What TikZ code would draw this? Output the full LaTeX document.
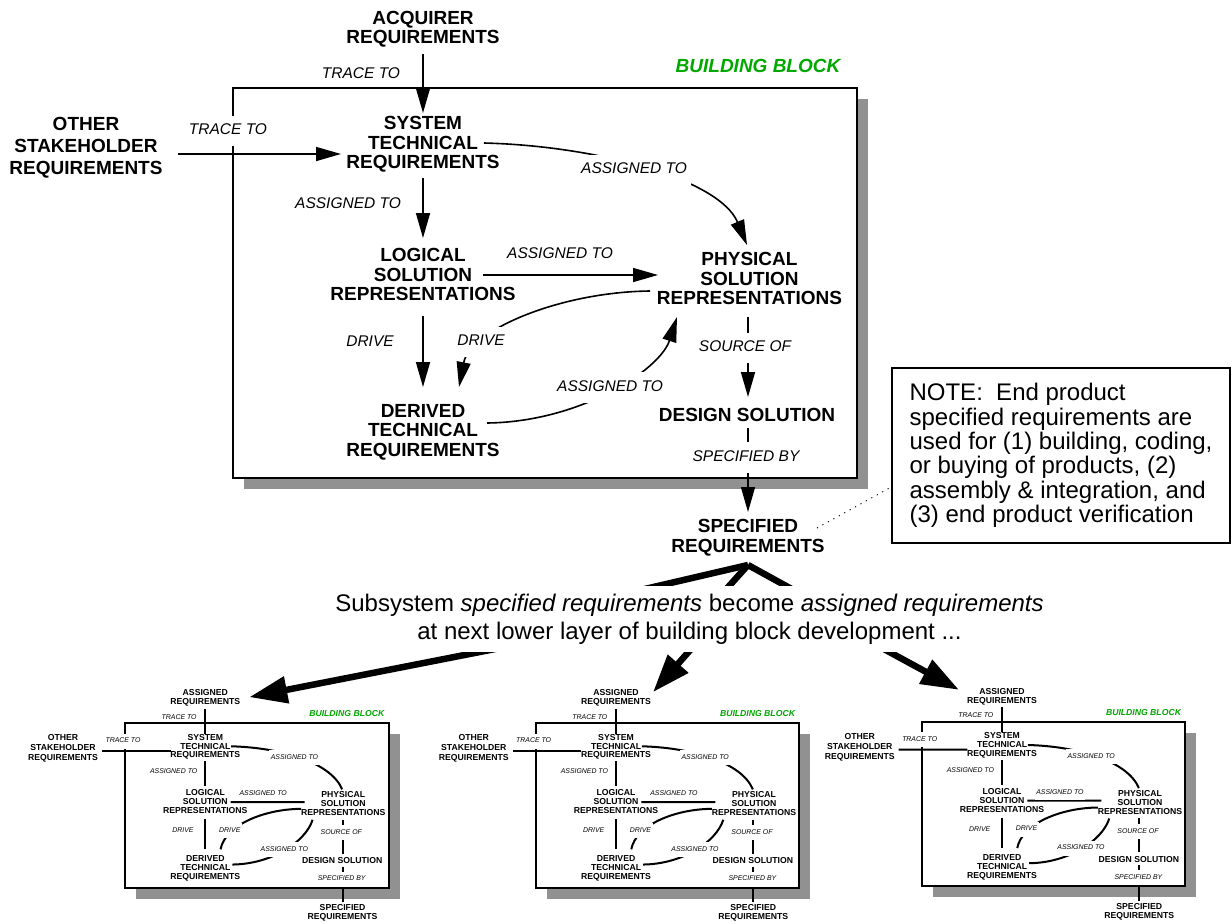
\documentclass[tikz,border=0pt]{standalone}
\usepackage{fontspec}
\setmainfont{Liberation Sans}
\usetikzlibrary{arrows.meta,calc}

\definecolor{bbgreen}{RGB}{0,168,0}
\definecolor{bbshadow}{RGB}{145,145,145}

% shadow offset of a building block frame (in block units)
\def\bbsh{11}

\tikzset{
  bbtext/.style={font=\fontsize{19}{19.5}\selectfont\bfseries, align=center, inner sep=0pt},
  bbother/.style={font=\fontsize{19}{22}\selectfont\bfseries, align=center, inner sep=0pt},
  bblabel/.style={font=\fontsize{15.5}{18}\selectfont\itshape, fill=white,
                  inner xsep=4pt, inner ysep=8pt, text height=11.2pt, text depth=3.5pt},
  bbtitle/.style={font=\fontsize{19}{20}\selectfont\bfseries\itshape, text=bbgreen, inner sep=0pt},
  conn/.style={line width=1.6pt, -{Triangle[length=25pt,width=14pt]}},
  bbframe/.style={line width=2.3pt, fill=white},
  smallblock/.style={
    bbtext/.append style={font=\fontsize{20.5}{21}\selectfont\bfseries},
    bbother/.append style={font=\fontsize{20.5}{23.5}\selectfont\bfseries},
    bblabel/.append style={font=\fontsize{16.4}{18}\selectfont\itshape,
                           inner ysep=10pt, text height=11.8pt, text depth=3.7pt},
    bbtitle/.append style={font=\fontsize{20.5}{21}\selectfont\bfseries\itshape},
    conn/.style={line width=2pt},
    bbframe/.style={line width=2pt, fill=white},
    /utils/exec={\def\bbsh{26}}
  },
  notebox/.style={draw, line width=1.3pt, font=\fontsize{24}{24.4}\selectfont,
                  align=left, inner sep=0pt, minimum width=338pt, minimum height=175pt},
  dotline/.style={line width=0.9pt, dash pattern=on 1.2pt off 5pt},
  bigarrow/.style={line width=6.5pt, line join=round, -{Triangle[length=38pt,width=26pt]}},
  subtext/.style={font=\fontsize{24}{28}\selectfont, fill=white, align=center, inner sep=8pt}
}

% one building block: #1 scope options, #2 text of the incoming requirements
\newcommand\buildingblock[2]{%
\begin{scope}[#1]
  \coordinate (bnw) at (233,88);
  \coordinate (bse) at (857,478);
  \fill[bbshadow] ($(bnw)+(\bbsh,\bbsh)$) rectangle ($(bse)+(\bbsh,\bbsh)$);
  \draw[bbframe] (bnw) rectangle (bse);
  \node[bbtitle] (title) at (758,66) {BUILDING BLOCK};
  % requirement nodes
  \node[bbtext]  (acq)    at (423,29)      {#2};
  \node[bbother] (other)  at (86,148)      {OTHER\\STAKEHOLDER\\REQUIREMENTS};
  \node[bbtext]  (sys)    at (423,144.5)   {SYSTEM\\TECHNICAL\\REQUIREMENTS};
  \node[bbtext]  (log)    at (423,274.5)   {LOGICAL\\SOLUTION\\REPRESENTATIONS};
  \node[bbtext]  (phys)   at (749.5,278.5) {PHYSICAL\\SOLUTION\\REPRESENTATIONS};
  \node[bbtext]  (der)    at (423,432)     {DERIVED\\TECHNICAL\\REQUIREMENTS};
  \node[bbtext]  (design) at (747,414.5)   {DESIGN SOLUTION};
  \node[bbtext]  (spec)   at (748,537.5)   {SPECIFIED\\REQUIREMENTS};
  % relations
  \draw[conn] ($(acq)+(0,25)$) -- ($(sys)+(0,-31.5)$);
  \draw[conn] ($(other)+(92,6)$) -- ($(sys)+(-82,9.5)$);
  \draw[conn] ($(sys)+(0,33.5)$) -- ($(log)+(0,-36.5)$);
  \draw[conn] ($(sys)+(61,-1.5)$) .. controls +(116,3) and +(-27,-65) .. ($(phys)+(-2.5,-33.5)$);
  \draw[conn] ($(log)+(60,0.5)$) -- ($(phys)+(-91.5,-3.5)$);
  \draw[conn] ($(phys)+(-99.5,12.5)$) .. controls +(-90,1) and +(11,-57) .. ($(der)+(36,-45)$);
  \draw[conn] ($(log)+(0,41.5)$) -- ($(der)+(0,-45)$);
  \draw[conn] ($(der)+(64,-9)$) .. controls +(93,-1) and +(-17,53) .. ($(phys)+(-72.5,38.5)$);
  \draw[conn] ($(phys)+(-1.5,38.5)$) -- ($(design)+(1,-17.5)$);
  \draw[conn] ($(design)+(1,13.5)$) -- ($(spec)+(0,-25.5)$);
  % relation labels
  \node[bblabel, fill=none] (ltrace) at (361,74.5) {TRACE TO};
  \node[bblabel] (ltraceo) at (228,131)   {TRACE TO};
  \node[bblabel] (las)     at (348,204.5) {ASSIGNED TO};
  \node[bblabel] (lasp)    at (634,170)   {ASSIGNED TO};
  \node[bblabel] (lalp)    at (560,255)   {ASSIGNED TO};
  \node[bblabel] (ldrl)    at (370,343)   {DRIVE};
  \node[bblabel] (ldrp)    at (481,342)   {DRIVE};
  \node[bblabel] (ladp)    at (610,387.5) {ASSIGNED TO};
  \node[bblabel] (lsrc)    at (745,348)   {SOURCE OF};
  \node[bblabel] (lspec)   at (746,457.5) {SPECIFIED BY};
\end{scope}}

\begin{document}
\begin{tikzpicture}[x=1pt,y=-1pt]
  \useasboundingbox (0,0) rectangle (1232,924);

  % top-level building block
  \buildingblock{}{ACQUIRER\\REQUIREMENTS}

  % note on end product requirements
  \node[notebox] (note) at (1061,455.5)
    {NOTE:\ \ End product\\specified requirements are\\used for (1) building, coding,\\or buying of products, (2)\\assembly \& integration, and\\(3) end product verification};
  \draw[dotline] ($(spec)+(69,-9.5)$) -- ($(note.west)+(0,31.5)$);

  % next lower layer
  \buildingblock{shift={(26.7,685.9)}, scale=0.4223, transform shape, name prefix=a-, smallblock}{ASSIGNED\\REQUIREMENTS}
  \buildingblock{shift={(437.4,685.9)}, scale=0.4223, transform shape, name prefix=b-, smallblock}{ASSIGNED\\REQUIREMENTS}
  \buildingblock{shift={(823.4,684.6)}, scale=0.4223, transform shape, name prefix=c-, smallblock}{ASSIGNED\\REQUIREMENTS}

  % flow down to the lower layer
  \draw[bigarrow] ($(spec)+(0,27.5)$) -- (619,595) -- (515.5,645) -- ($(a-acq)+(44,-1)$);
  \draw[bigarrow] ($(spec)+(0,27.5)$) -- (721,595) -- (694.6,645) -- ($(b-acq)+(37,-6)$);
  \draw[bigarrow] ($(spec)+(0,27.5)$) -- (802.5,595) -- (876.5,645) -- ($(c-acq)+(-43,-7)$);

  \node[subtext] (sub) at (689.5,619)
    {Subsystem \textit{specified requirements} become \textit{assigned requirements}\\at next lower layer of building block development ...};
\end{tikzpicture}
\end{document}
